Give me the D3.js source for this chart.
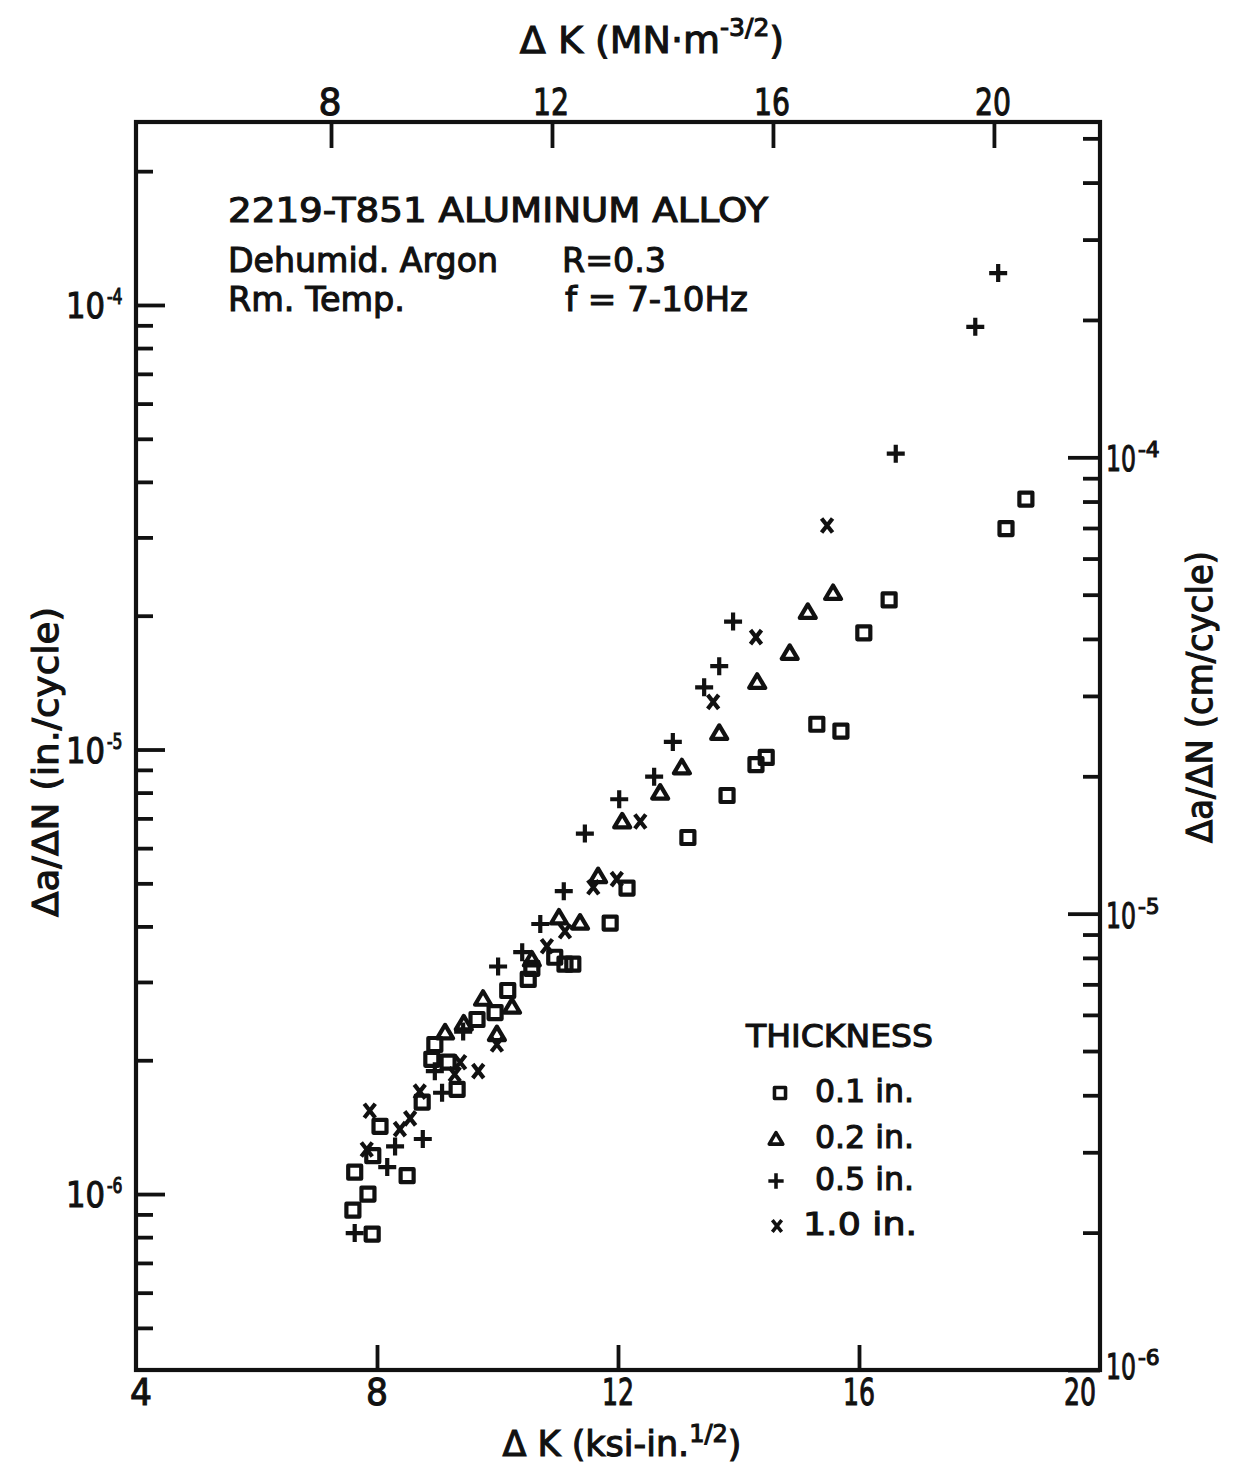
<!DOCTYPE html>
<html>
<head>
<meta charset="utf-8">
<script src="https://cdn.jsdelivr.net/npm/d3@7"></script>
<style>
  html, body { margin: 0; padding: 0; background: #fff; }
  svg { display: block; }
</style>
</head>
<body>
<svg id="chart" width="1237" height="1464"></svg>
<script>
// Fatigue crack growth, 2219-T851 aluminium, dehumidified argon, R = 0.3
// Each point: [ΔK (ksi·in^1/2), da/dN (in./cycle)]
const seriesLabels = ["0.1 in.", "0.2 in.", "0.5 in.", "1.0 in."];

const thick01 = [
  [18.77, 3.66e-5], [18.44, 3.14e-5], [16.50, 2.17e-5], [16.08, 1.83e-5],
  [15.30, 1.14e-5], [15.70, 1.10e-5], [14.46, 9.6e-6], [14.29, 9.25e-6],
  [13.81, 7.88e-6], [13.16, 6.34e-6], [12.15, 4.88e-6], [11.87, 4.07e-6],
  [11.25, 3.29e-6], [11.12, 3.29e-6], [10.95, 3.41e-6], [10.57, 3.22e-6],
  [10.51, 3.04e-6], [10.17, 2.87e-6], [9.96, 2.56e-6], [9.66, 2.47e-6],
  [8.96, 2.17e-6], [8.91, 2.01e-6], [9.18, 1.98e-6], [9.33, 1.72e-6],
  [8.75, 1.61e-6], [8.05, 1.42e-6], [7.93, 1.22e-6], [7.63, 1.12e-6],
  [8.50, 1.10e-6], [7.85, 1.00e-6], [7.60, 9.2e-7], [7.92, 8.13e-7]
];

const thick02 = [
  [15.57, 2.25e-5], [15.15, 2.04e-5], [14.85, 1.65e-5], [14.31, 1.42e-5],
  [13.68, 1.09e-5], [13.06, 9.12e-6], [12.70, 8.0e-6], [12.07, 6.89e-6],
  [11.67, 5.19e-6], [11.37, 4.08e-6], [11.02, 4.19e-6], [10.57, 3.37e-6],
  [10.24, 2.64e-6], [9.76, 2.75e-6], [9.99, 2.29e-6], [9.13, 2.31e-6],
  [9.44, 2.42e-6]
];

const thick05 = [
  [18.31, 1.18e-4], [17.93, 8.93e-5], [16.61, 4.63e-5], [13.91, 1.94e-5],
  [13.68, 1.54e-5], [13.43, 1.38e-5], [12.91, 1.04e-5], [12.60, 8.69e-6],
  [12.02, 7.73e-6], [11.45, 6.47e-6], [11.10, 4.80e-6], [10.71, 4.05e-6],
  [10.41, 3.50e-6], [10.01, 3.25e-6], [9.43, 2.32e-6], [8.96, 1.89e-6],
  [9.08, 1.69e-6], [8.76, 1.33e-6], [8.30, 1.28e-6], [8.17, 1.15e-6],
  [7.63, 8.17e-7]
];

const thick10 = [
  [15.47, 3.19e-5], [14.29, 1.79e-5], [13.58, 1.28e-5], [12.37, 6.89e-6],
  [11.98, 5.11e-6], [11.59, 4.90e-6], [11.12, 3.90e-6], [10.82, 3.61e-6],
  [9.99, 2.17e-6], [9.68, 1.89e-6], [9.38, 1.98e-6], [9.29, 1.86e-6],
  [8.71, 1.70e-6], [7.88, 1.54e-6], [8.55, 1.48e-6], [7.83, 1.26e-6],
  [8.38, 1.40e-6]
];

// Tick values
const bottomTickLabels = [4, 8, 12, 16, 20];     // ksi·in^1/2
const topTickLabels = [8, 12, 16, 20];           // MN·m^-3/2
const leftDecades = [1e-4, 1e-5, 1e-6];          // in./cycle
const rightDecades = [1e-4, 1e-5, 1e-6];         // cm/cycle
const leftExponents = ["-4", "-5", "-6"];
const rightExponents = ["-4", "-5", "-6"];

// ---------------------------------------------------------------
const svg = d3.select("#chart");
const INK = "#111";
const FONT = "'DejaVu Sans', 'Liberation Sans', sans-serif";
const TEXT_SW = 1.1;

const L = 136, R = 1100, T = 122, B = 1370;

const x = d3.scaleLinear().domain([4, 20]).range([L, R]);
const xTop = d3.scaleLinear().domain([4.47, 21.92]).range([L, R]);
const yL = d3.scaleLog().domain([4.02e-7, 2.58e-4]).range([B, T]);
const yR = d3.scaleLog().domain([1e-6, 5.43e-4]).range([B, T]);

function minorTicks(scale, lo, hi) {
  const out = [];
  for (let e = lo; e <= hi; e++) {
    for (let k = 2; k <= 9; k++) {
      const v = k * Math.pow(10, e);
      const py = scale(v);
      if (py > T + 8 && py < B - 3) out.push(v);
    }
  }
  return out;
}

function styleAxis(g, w) {
  g.select(".domain").remove();
  g.selectAll(".tick line").attr("stroke", INK).attr("stroke-width", w);
  g.selectAll(".tick text").remove();
}

// left axis ticks (inward)
svg.append("g").attr("transform", `translate(${L},0)`)
  .call(d3.axisLeft(yL).tickValues(leftDecades).tickSize(-29).tickFormat(""))
  .call(g => styleAxis(g, 3.8));
svg.append("g").attr("transform", `translate(${L},0)`)
  .call(d3.axisLeft(yL).tickValues(minorTicks(yL, -7, -4)).tickSize(-17).tickFormat(""))
  .call(g => styleAxis(g, 3.8));

// right axis ticks (inward)
svg.append("g").attr("transform", `translate(${R},0)`)
  .call(d3.axisRight(yR).tickValues(rightDecades).tickSize(-32).tickFormat(""))
  .call(g => styleAxis(g, 3.8));
svg.append("g").attr("transform", `translate(${R},0)`)
  .call(d3.axisRight(yR).tickValues(minorTicks(yR, -6, -4)).tickSize(-17).tickFormat(""))
  .call(g => styleAxis(g, 3.8));

// bottom axis ticks (inward)
svg.append("g").attr("transform", `translate(0,${B})`)
  .call(d3.axisBottom(x).tickValues(bottomTickLabels.filter(v => v > 4 && v < 20)).tickSize(-25).tickFormat(""))
  .call(g => styleAxis(g, 3.8));

// top axis ticks (inward)
svg.append("g").attr("transform", `translate(0,${T})`)
  .call(d3.axisTop(xTop).tickValues(topTickLabels).tickSize(-26).tickFormat(""))
  .call(g => styleAxis(g, 3.8));

// frame
svg.append("rect")
  .attr("x", L).attr("y", T).attr("width", R - L).attr("height", B - T)
  .attr("fill", "none").attr("stroke", INK).attr("stroke-width", 4.2);

// ---------------------------------------------------------------
// text helper
function txt(s, px, py, size, opts = {}) {
  const t = svg.append("text")
    .attr("x", px).attr("y", py)
    .attr("font-family", FONT)
    .attr("font-size", size)
    .attr("fill", INK)
    .attr("stroke", INK).attr("stroke-width", opts.sw ?? TEXT_SW)
    .attr("text-anchor", opts.anchor || "start")
    .text(s);
  if (opts.len) t.attr("textLength", opts.len).attr("lengthAdjust", "spacingAndGlyphs");
  if (opts.rotate) t.attr("transform", `rotate(${opts.rotate},${px},${py})`);
  return t;
}

// power-of-ten label: narrowed "10" followed by a raised exponent
function powLabel(px, py, exp, baseW, expW) {
  const base = svg.append("text")
    .attr("transform", `translate(${px},${py}) scale(${(baseW / 45.8).toFixed(3)},1)`)
    .attr("font-family", FONT).attr("font-size", 36).attr("fill", INK)
    .attr("stroke", INK).attr("stroke-width", TEXT_SW)
    .text("10");
  const sup = svg.append("text")
    .attr("transform", `translate(${px + baseW + 2},${py - 14}) scale(${(expW / 27).toFixed(3)},1)`)
    .attr("font-family", FONT).attr("font-size", 21).attr("fill", INK)
    .attr("stroke", INK).attr("stroke-width", TEXT_SW)
    .text(exp);
  return [base, sup];
}

// bottom tick labels
bottomTickLabels.forEach(v => {
  const cx = Math.min(Math.max(x(v), L + 5), R - 20);
  const s = String(v);
  txt(s, cx, 1405, 38, { anchor: "middle", len: s.length === 1 ? 22 : 32 });
});

// top tick labels
topTickLabels.forEach(v => {
  const s = String(v);
  txt(s, xTop(v) - 1, 115, 37, { anchor: "middle", len: s.length === 1 ? 23 : 36 });
});

// left decade labels
leftDecades.forEach((v, i) => {
  powLabel(66, yL(v) + 13, leftExponents[i], 39, 20);
});

// right decade labels
rightDecades.forEach((v, i) => {
  const py = Math.min(yR(v), 1365);
  powLabel(1106, py + 14, rightExponents[i], 30, 28);
});

// axis titles
const bt = svg.append("text")
  .attr("x", 622).attr("y", 1456)
  .attr("font-family", FONT).attr("font-size", 35).attr("fill", INK)
  .attr("stroke", INK).attr("stroke-width", TEXT_SW)
  .attr("text-anchor", "middle");
bt.append("tspan").text("Δ K (ksi-in.");
bt.append("tspan").attr("font-size", 24).attr("dy", -14).text("1/2");
bt.append("tspan").attr("dy", 14).text(")");

const tt = svg.append("text")
  .attr("x", 652).attr("y", 53)
  .attr("font-family", FONT).attr("font-size", 38).attr("fill", INK)
  .attr("stroke", INK).attr("stroke-width", TEXT_SW)
  .attr("text-anchor", "middle");
tt.append("tspan").text("Δ K (MN·m");
tt.append("tspan").attr("font-size", 25).attr("dy", -17).text("-3/2");
tt.append("tspan").attr("dy", 17).text(")");

txt("Δa/ΔN (in./cycle)", 58, 762, 35, { anchor: "middle", rotate: -90, len: 310 });
txt("Δa/ΔN (cm/cycle)", 1212, 697, 35, { anchor: "middle", rotate: -90, len: 292 });

// annotation block
txt("2219-T851  ALUMINUM  ALLOY", 228, 222, 34, { len: 540 });
txt("Dehumid. Argon", 228, 272, 34, { len: 270 });
txt("R=0.3", 562, 272, 34, { len: 104 });
txt("Rm. Temp.", 228, 311, 34, { len: 177 });
txt("f = 7-10Hz", 565, 311, 34, { len: 183 });

// ---------------------------------------------------------------
// marker shapes
const shapes = [
  "M-6.5,-6.5H6.5V6.5H-6.5Z",            // square
  "M0,-7.5L8,6H-8Z",                     // triangle
  "M-9,0H9M0,-9V9",                      // plus
  "M-5.5,-7L5.5,7M5.5,-7L-5.5,7"         // cross
];
const allSeries = [thick01, thick02, thick05, thick10];

allSeries.forEach((data, si) => {
  svg.append("g").selectAll("path")
    .data(data)
    .join("path")
    .attr("transform", d => `translate(${x(d[0])},${yL(d[1])})`)
    .attr("d", shapes[si])
    .attr("fill", "none")
    .attr("stroke", INK)
    .attr("stroke-width", 4.2)
    .attr("stroke-linejoin", "round");
});

// legend
txt("THICKNESS", 746, 1047, 32, { len: 187 });
const legendRows = [1102, 1148, 1190, 1235];
const legendMarkX = [780, 776, 776, 777];
seriesLabels.forEach((lab, i) => {
  const yy = legendRows[i];
  svg.append("path")
    .attr("transform", `translate(${legendMarkX[i]},${yy - 9}) scale(0.85)`)
    .attr("d", shapes[i])
    .attr("fill", "none").attr("stroke", INK).attr("stroke-width", 4.2)
    .attr("stroke-linejoin", "round");
  const sx = i === 3 ? 803 : 815;
  txt(lab, sx, yy, 32, { len: (i === 3 ? 114 : 99) });
});
</script>
</body>
</html>
